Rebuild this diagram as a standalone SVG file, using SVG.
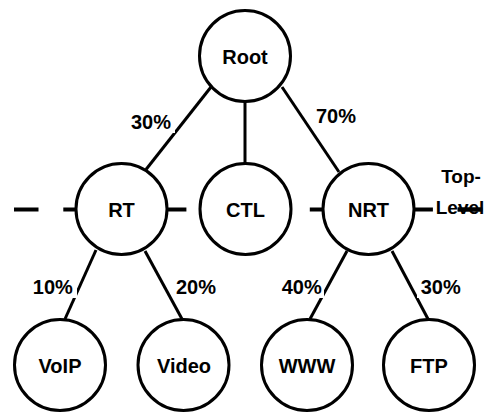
<svg xmlns="http://www.w3.org/2000/svg" width="492" height="413" viewBox="0 0 492 413">
<style>
  .node circle { fill: #fff; stroke: #000; stroke-width: 3; }
  .node text, .lbl text, .side { font-family: "Liberation Sans", Arial, Helvetica, sans-serif; font-weight: bold; font-size: 20px; fill: #000; text-anchor: middle; }
  .edge { stroke: #000; stroke-width: 3; fill: none; }
  .dash { stroke: #000; stroke-width: 4; stroke-dasharray: 24.5 24.8; fill: none; }
  .lbl rect { fill: #fff; stroke: none; }
</style>
<rect width="492" height="413" fill="#fff"/>
<g id="level-line">
  <line class="dash" x1="14" y1="209.5" x2="483" y2="209.5"/>
</g>
<text class="side" x="461" y="182.5" style="font-size:19px">Top-</text>
<g id="connectors">
  <line class="edge" x1="211" y1="87" x2="146" y2="169.5"/>
  <line class="edge" x1="245" y1="100" x2="245" y2="165"/>
  <line class="edge" x1="282" y1="87" x2="339" y2="172"/>
  <line class="edge" x1="96" y1="250" x2="65" y2="319"/>
  <line class="edge" x1="145" y1="251" x2="182" y2="319"/>
  <line class="edge" x1="347" y1="251" x2="310" y2="319"/>
  <line class="edge" x1="392" y1="251" x2="428" y2="319"/>
</g>
<g id="labels" class="lbl">
  <rect x="127" y="112" width="48" height="21"/><text x="151" y="128.5">30%</text>
  <rect x="313" y="104" width="46" height="22"/><text x="336" y="122.5">70%</text>
  <rect x="30" y="275" width="47" height="23"/><text x="52.8" y="293.5">10%</text>
  <rect x="173" y="275" width="46" height="23"/><text x="196" y="293.5">20%</text>
  <rect x="278" y="273" width="46" height="25"/><text x="301.7" y="293.5">40%</text>
  <rect x="417" y="275" width="47" height="23"/><text x="440.7" y="293.5">30%</text>
</g>
<g id="root" class="node"><circle cx="245" cy="56" r="45.5"/><text x="245" y="63.5">Root</text></g>
<g id="rt" class="node"><circle cx="121.5" cy="209" r="45.5"/><text x="121.5" y="217">RT</text></g>
<g id="ctl" class="node"><circle cx="245.5" cy="209" r="45.5"/><text x="245.5" y="217">CTL</text></g>
<g id="nrt" class="node"><circle cx="368.5" cy="209" r="45.5"/><text x="368.5" y="217">NRT</text></g>
<g id="voip" class="node"><circle cx="60" cy="365" r="45.5"/><text x="60" y="372.5">VoIP</text></g>
<g id="video" class="node"><circle cx="183.5" cy="365" r="45.5"/><text x="184" y="372.5">Video</text></g>
<g id="www" class="node"><circle cx="307" cy="365" r="45.5"/><text x="307" y="372.5">WWW</text></g>
<g id="ftp" class="node"><circle cx="429" cy="365" r="45.5"/><text x="429" y="372.5">FTP</text></g>
<text class="side" x="460" y="214" style="font-size:19px">Level</text>
<line class="dash" x1="14" y1="209.5" x2="483" y2="209.5" style="stroke-dasharray:0 443.7 24.5 100"/>
</svg>
